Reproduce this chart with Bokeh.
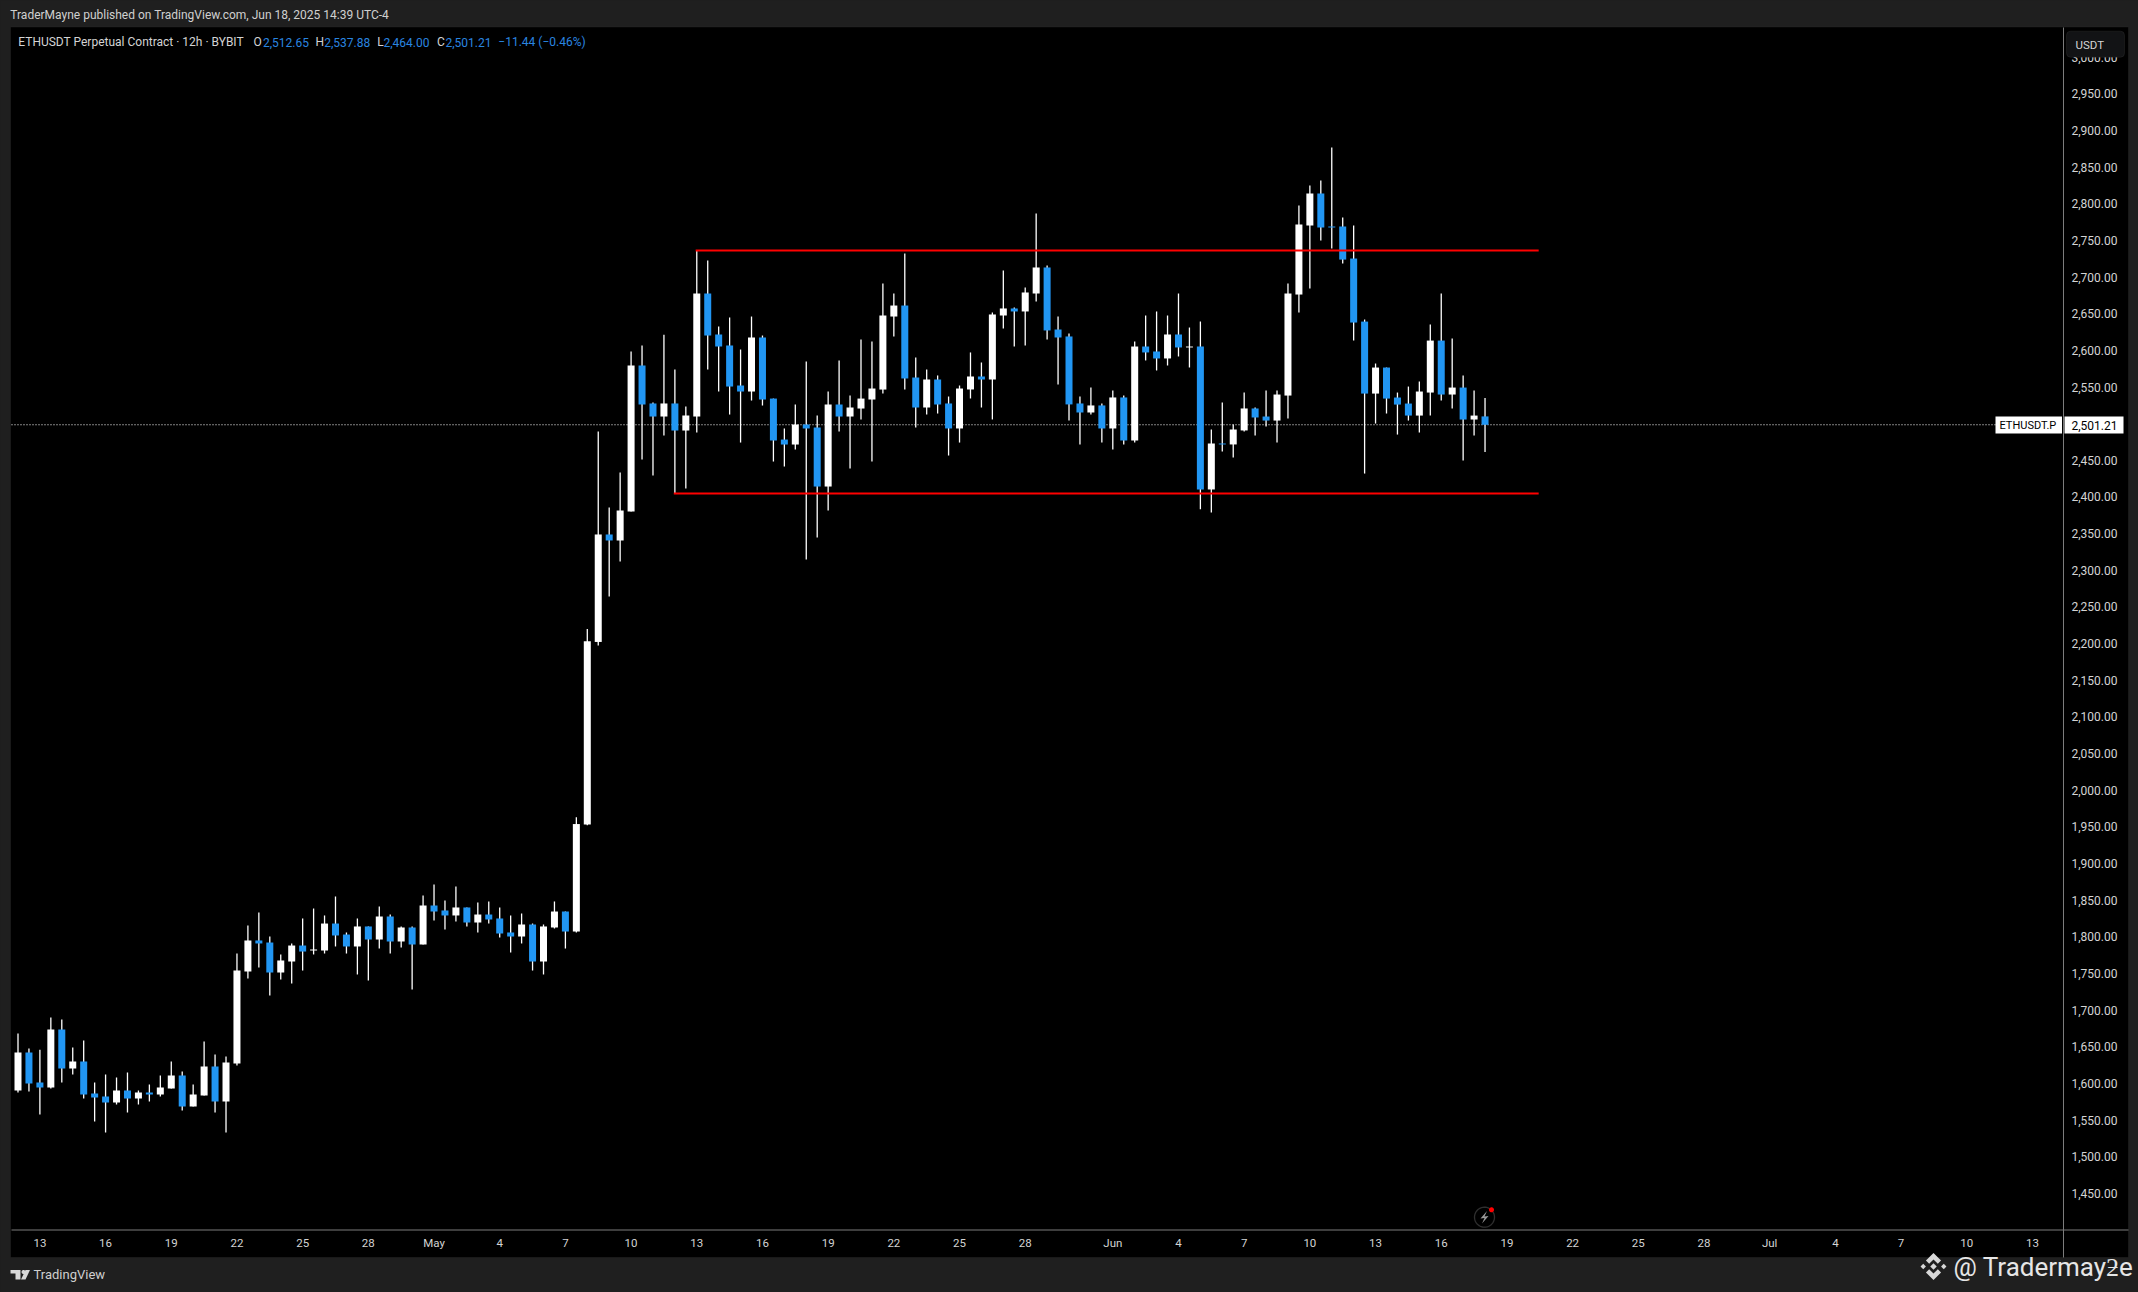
import numpy as np
from bokeh.plotting import figure
from bokeh.embed import file_html
from bokeh.resources import INLINE
from bokeh.models import (Range1d, FixedTicker, NumeralTickFormatter, ColumnDataSource,
                          BoxAnnotation, Label, PolyAnnotation, LinearAxis)

opens = [1593.2,1645.1,1604.1,1597.3,1676.4,1623.2,1632.8,1589.1,1585,1576.9,1593.2,1582.3,1590.5,1587.8,1596,1613.7,1571.4,1586.4,1626,1578.2,
         1630,1755.5,1797.8,1795,1754.1,1769.1,1790.9,1784.1,1784.1,1820.9,1805.9,1789.6,1816.9,1799.1,1830.5,1796.4,1815.5,1792.3,1845.5,1838.7,
         1831.9,1842.8,1822.3,1833.2,1827.8,1808.7,1803.2,1819.6,1769.1,1815.5,1837.3,1810,1956,2205,2351.6,2343.4,2383,2582.1,2530.3,2512.5,
         2530.3,2493.4,2512.5,2680.3,2624.4,2609.4,2554.8,2546.6,2620.3,2537,2481.1,2474.3,2501.6,2497.5,2417,2528.9,2512.5,2523.4,2535.7,2549.3,
         2648.9,2663.9,2565.7,2524.8,2563,2530.3,2496.2,2549.4,2567.1,2563,2650.3,2659.9,2655.8,2680.3,2715.8,2631.2,2621.7,2530.3,2518,2527.6,
         2496.2,2538.5,2479.8,2608,2601.2,2591.7,2624.4,2606.7,2608,2413,2475.7,2474.4,2493.5,2523.5,2512.5,2507,2541.1,2678.9,2773,2816.7,
         2771.6,2771.6,2728,2642,2543.8,2579.3,2538.4,2530.2,2513.8,2545.2,2616.1,2542.5,2552,2508.4,2512.65]
highs = [1671,1650.5,1648.7,1692.8,1690.1,1651.9,1661.4,1604.1,1615,1611,1617.8,1593.2,1601.4,1613.7,1632.8,1619.1,1601.4,1660.1,1642.3,1639.6,
         1780,1818.2,1836,1803.2,1778.7,1793.7,1827.8,1841.4,1831.9,1857.8,1808.7,1827.8,1816.9,1844.1,1833.2,1816.9,1816.9,1859.2,1874.2,1852.3,
         1871.4,1842.8,1849.6,1851,1842.8,1831.9,1834.6,1820.9,1819.6,1851,1837.3,1966,2222.6,2492,2388.4,2436.1,2601.2,2609.4,2531.6,2624,
         2576.6,2526.2,2739,2725.3,2635.3,2647.6,2603.9,2648.9,2623,2537,2496.2,2528.9,2587.5,2513.9,2546.6,2588.9,2541.2,2617.5,2614.8,2693.9,
         2680.3,2734.9,2593,2576.6,2568.5,2539.8,2554.8,2599.9,2586.2,2654.4,2711.7,2661.2,2688.5,2789.5,2718.5,2649,2625.8,2539.8,2552.1,2530.3,
         2548,2541.2,2614.9,2650.3,2655.8,2650.3,2680.3,2633.9,2642.1,2494.8,2531.7,2501.6,2545.3,2524.8,2547.9,2547.9,2693.9,2800.3,2827.6,2834.4,
         2879.4,2783.9,2773,2644.8,2584.8,2579.3,2545.2,2553.4,2560.2,2638,2680.3,2618.9,2568.4,2547.9,2537.88]
lows = [1590.5,1591.9,1560.5,1596,1604.1,1615,1582.3,1550.9,1535.9,1574.1,1563.2,1574.1,1578.2,1585,1596,1565.9,1571.4,1586.4,1563.2,1535.9,
        1627.3,1745.9,1760.9,1722.7,1744.6,1739.1,1756.8,1778.7,1780,1789.6,1780,1751.4,1743.2,1786.8,1780,1788.2,1730.9,1792.3,1825,1812.8,
        1823.7,1816.9,1808.7,1820.9,1801.8,1781.4,1793.7,1756.8,1751.4,1814.1,1786.8,1808.7,1955,2200,2267,2314.7,2383,2453.9,2432,2486.6,
        2407.5,2414.3,2490.7,2576.6,2546.6,2515.2,2477,2534.3,2527.5,2451.1,2444.3,2467.5,2317.4,2347.5,2384.3,2492,2441.6,2508.4,2451.1,2543.9,
        2621.7,2549.3,2497.5,2515.2,2516.6,2459.3,2477,2537.1,2524.8,2508.5,2632.6,2608,2609.4,2669.4,2617.6,2556.2,2507.1,2474.4,2515.3,2477.1,
        2467.5,2474.4,2477.1,2589,2575.3,2582.1,2594.4,2579.4,2386,2381.5,2464.8,2456.6,2492.1,2486.6,2498.8,2477,2509.7,2654.3,2687.1,2752.6,
        2741.6,2721.2,2616.1,2434.7,2502.9,2516.6,2487.9,2507,2490.6,2513.8,2534.3,2523.4,2452.4,2486.6,2464]
closes = [1645.1,1602.8,1597.3,1676.4,1623.2,1632.8,1587.8,1583.7,1576.9,1593.2,1582.3,1590.5,1587.8,1597.3,1613.7,1571.4,1587.8,1626,1578.2,1631.4,
          1756.8,1797.8,1793.7,1754.1,1770.5,1790.9,1782.7,1785.5,1820.9,1804.6,1789.6,1816.9,1799.1,1830.5,1796.4,1815.5,1792.3,1845.5,1837.3,1831.9,
          1842.8,1822.3,1833.2,1826.4,1807.3,1803.2,1819.6,1769.1,1816.9,1837.3,1810,1956.6,2205.8,2351.6,2343.4,2384.3,2582.1,2528.9,2512.5,2530.3,
          2493.4,2513.9,2680.3,2623,2608,2553.4,2546.6,2620.3,2535.7,2479.8,2474.3,2501.6,2496.2,2417,2528.9,2512.5,2524.8,2537,2550.7,2650.3,
          2663.9,2564.4,2524.8,2563,2528.9,2496.2,2550.7,2567.1,2563,2651.7,2659.9,2655.8,2681.7,2715.8,2629.9,2620.3,2529,2518,2527.6,2496.2,
          2538.5,2479.8,2608,2599.9,2591.7,2624.4,2606.7,2608,2413,2475.7,2474.4,2494.8,2523.5,2511.2,2507,2542.5,2680.3,2774.4,2816.7,2770.3,
          2770.3,2726.6,2640.7,2543.8,2579.3,2537,2528.8,2513.8,2546.6,2616.1,2542.5,2552,2508.4,2513.8,2501.21]

price_ticks = list(range(1450, 3001, 50))
time_labels = ["13","16","19","22","25","28","May","4","7","10","13","16","19","22","25","28",
               "Jun","4","7","10","13","16","19","22","25","28","Jul","4","7","10","13"]
time_days = [0,3,6,9,12,15,18,21,24,27,30,33,36,39,42,45,49,52,55,58,61,64,67,70,73,76,79,82,85,88,91]
bars_per_day = 2
first_tick_bar = 2

range_top, range_bottom = 2739.0, 2407.5
range_top_bars = (61.9, 138.9)
range_bottom_bars = (59.9, 138.9)
last_price = 2501.21

BG = "#1f1f1f"; FG = "#d4d4d4"; UP = "#ffffff"; DOWN = "#2196f3"
FONT = "Roboto"

x = np.arange(len(opens))
src = ColumnDataSource(dict(
    x=x, o=opens, h=highs, l=lows, c=closes,
    top=np.maximum(opens, closes), bot=np.minimum(opens, closes),
    col=[UP if c >= o else DOWN for o, c in zip(opens, closes)]))

W_PAGE, H_PAGE = 2138, 1292
X0, XS = 17.5, 10.948      # canvas x of bar 0, pixels per bar
Y0, YS = 424.3, 0.7331     # canvas y of the last price, pixels per USDT
LABEL_LIFT = 2.0           # price-scale texts sit this many pixels above their level
def px_x(px): return (px - X0) / XS
def px_y(py): return last_price + (Y0 - py) / YS

p = figure(width=W_PAGE, height=H_PAGE, output_backend="svg", toolbar_location=None,
           x_range=Range1d(px_x(0), px_x(W_PAGE)), y_range=Range1d(px_y(H_PAGE), px_y(0)),
           y_axis_location=None, min_border=0, min_border_left=0, min_border_right=0,
           min_border_top=0, min_border_bottom=0, background_fill_color=BG,
           border_fill_color=BG, outline_line_color=None)
p.grid.visible = False
p.extra_y_ranges = {"scale": Range1d(px_y(H_PAGE + LABEL_LIFT), px_y(LABEL_LIFT))}

def box(l, r, t, b, fill, line=None, level="annotation", **kw):
    p.add_layout(BoxAnnotation(left=l, right=r, top=t, bottom=b, left_units="canvas", right_units="canvas",
                               top_units="canvas", bottom_units="canvas", fill_color=fill, fill_alpha=1,
                               line_color=line, level=level, **kw))

def text(x_, y_, s, color=FG, size=12, font=FONT, **kw):
    p.add_layout(Label(x=x_, y=y_, x_units="canvas", y_units="canvas", text=s, text_color=color,
                       text_font=font, text_font_size=f"{size}px", text_baseline="middle", **kw))

def poly(pts, fill, line=None, level="annotation", lw=1):
    p.add_layout(PolyAnnotation(xs=[a for a, _ in pts], ys=[b for _, b in pts], xs_units="canvas", ys_units="canvas",
                                fill_color=fill, fill_alpha=1, line_color=line, line_width=lw, level=level))

# black chart panel with thin border, axis rules
box(10, 2128, 26.5, 1257, "#000000", line="#333333", level="underlay")
box(2062.5, 2063.5, 27, 1257, "#7c7c7c", level="underlay")
box(11, 2128, 1229, 1230, "#7c7c7c", level="underlay")

# axes, held inside the full-page frame
ya = LinearAxis(y_range_name="scale", fixed_location=px_x(2063))
ya.ticker = FixedTicker(ticks=price_ticks)
ya.formatter = NumeralTickFormatter(format="0,0.00")
ya.major_tick_line_color = None; ya.minor_tick_line_color = None; ya.axis_line_color = None
ya.major_tick_out = 0; ya.major_tick_in = 0
ya.major_label_text_color = FG; ya.major_label_text_font = FONT; ya.major_label_text_font_size = "12px"
ya.major_label_standoff = 8
p.add_layout(ya, "right")
xa = p.xaxis[0]
xa.fixed_location = px_y(1229.5)
bar_ticks = [first_tick_bar + bars_per_day * d for d in time_days]
xa.ticker = FixedTicker(ticks=bar_ticks)
xa.major_label_overrides = {t: s for t, s in zip(bar_ticks, time_labels)}
xa.major_tick_line_color = None; xa.minor_tick_line_color = None; xa.axis_line_color = None
xa.major_tick_out = 0; xa.major_tick_in = 0
xa.major_label_text_color = FG; xa.major_label_text_font = FONT; xa.major_label_text_font_size = "11.5px"
xa.major_label_standoff = 6

# last-price dotted line (under candles)
p.line([px_x(11), px_x(1995)], [last_price, last_price], line_color="#ffffff", line_width=1.1, line_dash="1 2")

# candles
p.segment("x", "h", "x", "l", source=src, line_color="#ffffff", line_width=1.3)
p.vbar("x", 0.64, "top", "bot", source=src, fill_color="col", line_color=None)

# range lines
p.segment(x0=[range_top_bars[0], range_bottom_bars[0]], y0=[range_top, range_bottom],
          x1=[range_top_bars[1], range_bottom_bars[1]], y1=[range_top, range_bottom],
          line_color="#ff0000", line_width=1.8)

# labels on price scale
box(1995, 2061.5, 416, 433, "#ffffff")
box(2064, 2123, 416, 433, "#ffffff")
text(1999, 424.5, "ETHUSDT.P", "#000000", 11)
text(2071, 424.5, "2,501.21", "#000000", 12)

# USDT button
box(2066, 2124, 30.7, 56.7, "#121315", line="#3a3a3a", border_radius=4)
text(2075, 44.5, "USDT", FG, 11.5)

# header and legend
text(9.8, 14.5, "TraderMayne published on TradingView.com, Jun 18, 2025 14:39 UTC-4", "#d0d0d0", 12)
text(17.8, 41.5, "ETHUSDT Perpetual Contract · 12h · BYBIT", FG, 12)
VAL = "#2a86e0"
for xp, s, col in [(253, "O", FG), (262.5, "2,512.65", VAL), (315, "H", FG), (323.7, "2,537.88", VAL),
                   (376.8, "L", FG), (383, "2,464.00", VAL), (436.6, "C", FG), (445, "2,501.21", VAL),
                   (497.8, "−11.44 (−0.46%)", VAL)]:
    text(xp, 41.5, s, col, 12)

# footer
text(33, 1274, "TradingView", "#cfcfcf", 13)
LOGO = "#d8d8d8"
poly([(10, 1269.5), (20, 1269.5), (20, 1279), (15, 1279), (15, 1273), (10, 1273)], LOGO)
t = np.linspace(0, 2*np.pi, 16)
poly(list(zip(23 + 2*np.cos(t), 1271.5 + 2*np.sin(t))), LOGO)
poly([(25, 1269.5), (29.5, 1269.5), (25, 1279), (20.5, 1279)], LOGO)

# flash icon
t = np.linspace(0, 2*np.pi, 48)
poly(list(zip(1484 + 10*np.cos(t), 1216.7 + 10*np.sin(t))), "#000000", line="#9a9a9a", lw=1.3)
poly([(1486.5, 1210.5), (1480, 1218), (1484, 1217.5), (1481.5, 1223), (1488, 1215.5), (1484, 1216)], "#9a9a9a")
poly(list(zip(1491 + 2.5*np.cos(t), 1209.3 + 2.5*np.sin(t))), "#ff0000")

# watermark
cx, cy, s = 1933, 1266, 13.5
W = "#d8d8d8"
def dia(dx, dy, r):
    poly([(cx+(dx+r)*s, cy+dy*s), (cx+dx*s, cy+(dy+r)*s), (cx+(dx-r)*s, cy+dy*s), (cx+dx*s, cy+(dy-r)*s)], W)
dia(0, 0, 0.24); dia(-0.76, 0, 0.2); dia(0.76, 0, 0.2)
for sy_ in (-1, 1):
    poly([(cx, cy+sy_*s), (cx+0.56*s, cy+sy_*0.44*s), (cx+0.32*s, cy+sy_*0.2*s), (cx, cy+sy_*0.52*s),
          (cx-0.32*s, cy+sy_*0.2*s), (cx-0.56*s, cy+sy_*0.44*s)], W)
text(1953, 1266, "@ Tradermayƻe", "#e6e6e6", 26)

html = file_html(p, INLINE)
html = html.replace("</head>", "<style>html,body{background:%s;margin:0;overflow:hidden}</style></head>" % BG, 1)
open("out.html", "w").write(html)
